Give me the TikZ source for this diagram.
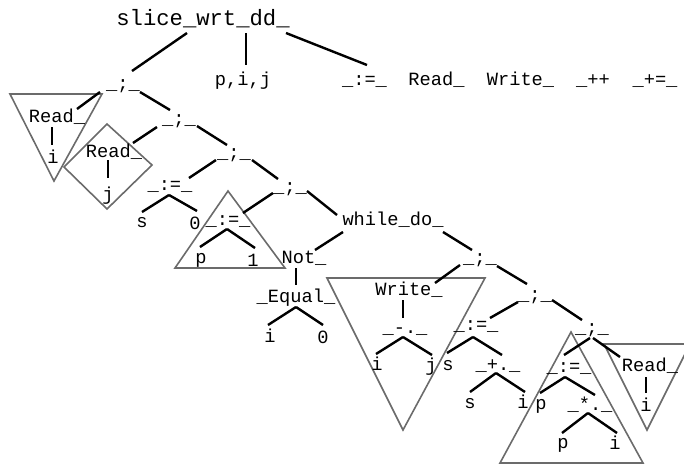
\documentclass[tikz,border=0pt]{standalone}
\usepackage{fontspec}
\newfontfamily\treefont{Liberation Mono}
\usetikzlibrary{calc}

\begin{document}
\begin{tikzpicture}[x=1pt, y=-1pt,
  lbl/.style={font=\treefont\fontsize{18.7}{20}\selectfont, inner sep=0pt, text height=11.6pt, text depth=0pt},
  big/.style={font=\treefont\fontsize{22.2}{24}\selectfont, inner sep=0pt, text height=13.8pt, text depth=0pt},
  link/.style={black, line width=2.4pt},
  tri/.style={draw=black!58, line width=1.6pt, line join=miter}]
\useasboundingbox (0,0) rectangle (684,467);
\clip (0,0) rectangle (684,467);

% folded subterms
\draw[tri] (10,94) -- (102,94) -- (54,181) -- cycle;
\draw[tri] (107,124) -- (152,165) -- (107,209) -- (64,167) -- cycle;
\draw[tri] (228,191) -- (285,268) -- (175,268) -- cycle;
\draw[tri] (327,278) -- (485,278) -- (403,430) -- cycle;
\draw[tri] (571,332) -- (643,463) -- (500,463) -- cycle;
\draw[tri] (604,344) -- (690,344) -- (647,430) -- cycle;

\node[big] (root) at (203,19) {slice\_wrt\_dd\_};
\node[lbl] (pij) at (243,80) {p,i,j};
\foreach \n/\x/\t in {opAs/364.5/\_:=\_, opRead/436.5/Read\_, opWrite/520.5/Write\_, opInc/593/\_++, opAdd/655/\_+=\_}
  \node[lbl] (\n) at (\x,80) {\t};

\node[lbl] (s1) at (123,84) {\_;\_};
\node[lbl] (r1) at (57,117) {Read\_};
\node[lbl] (r1i) at (53,158) {i};
\node[lbl] (s2) at (179,119) {\_;\_};
\node[lbl] (r2) at (114,152) {Read\_};
\node[lbl] (r2j) at (108,195) {j};
\node[lbl] (s3) at (234,153) {\_;\_};
\node[lbl] (a1) at (170,185) {\_:=\_};
\node[lbl] (a1s) at (142,222) {s};
\node[lbl] (a1z) at (195,224) {0};
\node[lbl] (s4) at (290,187) {\_;\_};
\node[lbl] (a2) at (228,220) {\_:=\_};
\node[lbl] (a2p) at (201,258) {p};
\node[lbl] (a2o) at (253,261) {1};
\node[lbl] (w) at (393,220) {while\_do\_};
\node[lbl] (nt) at (304,258) {Not\_};
\node[lbl] (eq) at (296,297) {\_Equal\_};
\node[lbl] (eqi) at (270,337) {i};
\node[lbl] (eqz) at (323,338) {0};
\node[lbl] (s5) at (480,258) {\_;\_};
\node[lbl] (wr) at (409,290) {Write\_};
\node[lbl] (mn) at (405,328) {\_-.\_};
\node[lbl] (mni) at (377,365) {i};
\node[lbl] (mnj) at (431,366) {j};
\node[lbl] (s6) at (535,295) {\_;\_};
\node[lbl] (a3) at (476,325) {\_:=\_};
\node[lbl] (a3s) at (448,365) {s};
\node[lbl] (pl) at (498,365) {\_+.\_};
\node[lbl] (pls) at (470,403) {s};
\node[lbl] (pli) at (523,403) {i};
\node[lbl] (s7) at (592,328) {\_;\_};
\node[lbl] (a4) at (569,367) {\_:=\_};
\node[lbl] (a4p) at (541,404) {p};
\node[lbl] (ml) at (590,405) {\_*.\_};
\node[lbl] (mlp) at (563,443) {p};
\node[lbl] (mli) at (615,444) {i};
\node[lbl] (r3) at (650,366) {Read\_};
\node[lbl] (r3i) at (646,406) {i};

\draw[link] ($(root)+(-16,14)$) -- ($(s1)+(9,-13)$);
\draw[link] ($(root)+(43,14)$) -- ($(pij)+(3,-15)$);
\draw[link] ($(root)+(83,14)$) -- ($(opAs)+(2.5,-15)$);
\draw[link] ($(s1)+(-23,8)$) -- ($(r1)+(20,-8)$);
\draw[link] ($(s1)+(17,8)$) -- ($(s2)+(-9,-9)$);
\draw[link] ($(r1)+(-5,10)$) -- ($(r1i)+(-1,-13)$);
\draw[link] ($(s2)+(-22,8)$) -- ($(r2)+(19,-9)$);
\draw[link] ($(s2)+(18,7)$) -- ($(s3)+(-7,-8)$);
\draw[link] ($(r2)+(-6,8)$) -- ($(r2j)+(0,-17)$);
\draw[link] ($(s3)+(-18,7)$) -- ($(a1)+(19,-7)$);
\draw[link] ($(s3)+(18,7)$) -- ($(s4)+(-12,-8)$);
\draw[link] ($(a1)+(-1,10)$) -- ($(a1s)+(0,-10)$);
\draw[link] ($(a1)+(-1,10)$) -- ($(a1z)+(2,-13)$);
\draw[link] ($(s4)+(-17,6)$) -- ($(a2)+(15,-7)$);
\draw[link] ($(s4)+(17,4)$) -- ($(w)+(-56,-5)$);
\draw[link] ($(a2)+(-1,9)$) -- ($(a2p)+(-1,-11)$);
\draw[link] ($(a2)+(-1,9)$) -- ($(a2o)+(2,-13)$);
\draw[link] ($(w)+(-50,12)$) -- ($(nt)+(11,-8)$);
\draw[link] ($(w)+(50,12)$) -- ($(s5)+(-8,-8)$);
\draw[link] ($(nt)+(-8,10)$) -- ($(eq)+(0,-12)$);
\draw[link] ($(eq)+(0,10)$) -- ($(eqi)+(-2,-12)$);
\draw[link] ($(eq)+(0,10)$) -- ($(eqz)+(0,-13)$);
\draw[link] ($(s5)+(-20,7)$) -- ($(wr)+(26,-7)$);
\draw[link] ($(s5)+(17,8)$) -- ($(s6)+(-8,-11)$);
\draw[link] ($(wr)+(-6,10)$) -- ($(mn)+(-2,-10)$);
\draw[link] ($(mn)+(-2,9)$) -- ($(mni)+(-1,-11)$);
\draw[link] ($(mn)+(-2,9)$) -- ($(mnj)+(1,-11)$);
\draw[link] ($(s6)+(-17,7)$) -- ($(a3)+(14,-7)$);
\draw[link] ($(s6)+(17,5)$) -- ($(s7)+(-10,-8)$);
\draw[link] ($(a3)+(-3,12)$) -- ($(a3s)+(-1,-12)$);
\draw[link] ($(a3)+(-3,12)$) -- ($(pl)+(4,-10)$);
\draw[link] ($(pl)+(-2,8)$) -- ($(pls)+(0,-11)$);
\draw[link] ($(pl)+(-2,8)$) -- ($(pli)+(2,-11)$);
\draw[link] ($(s7)+(-2,10)$) -- ($(a4)+(-5,-12)$);
\draw[link] ($(s7)+(1,10)$) -- ($(r3)+(-30,-9)$);
\draw[link] ($(a4)+(-4,10)$) -- ($(a4p)+(-1,-11)$);
\draw[link] ($(a4)+(-4,10)$) -- ($(ml)+(5,-10)$);
\draw[link] ($(ml)+(-2,8)$) -- ($(mlp)+(-1,-10)$);
\draw[link] ($(ml)+(-2,8)$) -- ($(mli)+(2,-11)$);
\draw[link] ($(r3)+(-4,11)$) -- ($(r3i)+(0,-13)$);
\end{tikzpicture}
\end{document}
